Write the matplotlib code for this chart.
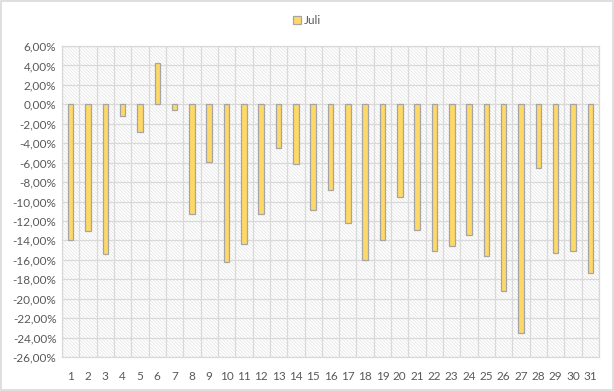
import matplotlib
matplotlib.use("Agg")
import matplotlib.pyplot as plt
from matplotlib.patches import Rectangle
from matplotlib.ticker import FuncFormatter, FixedLocator
import numpy as np

# daily values for July, in percent
days = list(range(1, 32))
juli = [-14.0, -13.0, -15.4, -1.2, -2.9, 4.2, -0.6, -11.3, -5.9, -16.2,
        -14.4, -11.3, -4.5, -6.1, -10.9, -8.8, -12.2, -16.0, -14.0, -9.5,
        -12.9, -15.1, -14.6, -13.4, -15.6, -19.2, -23.5, -6.6, -15.3, -15.1,
        -17.4]
y_ticks = list(range(-26, 7, 2))

text_col = "#595959"
grid_col = "#D9D9D9"

plt.rcParams["font.family"] = ["Lato", "DejaVu Sans"]
plt.rcParams["font.size"] = 8.5
plt.rcParams["hatch.linewidth"] = 0.5

fig = plt.figure(figsize=(6.14, 3.91), dpi=100)
fig.patches.append(Rectangle((0.002, 0.003), 0.996, 0.994, transform=fig.transFigure,
                             facecolor="none", edgecolor=grid_col, lw=1.2, zorder=5))
ax = fig.add_axes([62/614, 34/391, 537/614, 311/391])
ax.set_facecolor("none")

# hatched plot area background
ax.add_patch(Rectangle((0, 0), 1, 1, transform=ax.transAxes, facecolor="white",
                       edgecolor="#E2E2E2", hatch="\\" * 10, lw=0, zorder=0))

ax.bar(days, juli, width=0.32, color="#FFD966", edgecolor="#A5A5A5",
       linewidth=0.9, zorder=3, label="Juli")

ax.set_xlim(0.5, 31.5)
ax.set_ylim(-26, 6)
ax.set_yticks(y_ticks)
ax.yaxis.set_major_formatter(FuncFormatter(lambda v, p: f"{v:.2f}%".replace(".", ",")))
ax.set_xticks(days)
ax.xaxis.set_minor_locator(FixedLocator(np.arange(0.5, 32, 1)))
ax.grid(axis="y", which="major", color=grid_col, lw=0.9, zorder=1)
ax.grid(axis="x", which="minor", color=grid_col, lw=0.9, zorder=1)
ax.set_axisbelow(True)
ax.tick_params(which="both", length=0, colors=text_col, labelsize=8.5)
ax.tick_params(axis="x", pad=10)
ax.tick_params(axis="y", pad=4)
for s in ax.spines.values():
    s.set_color(grid_col)
    s.set_linewidth(0.9)

fig.legend(loc="center", bbox_to_anchor=(0.5, 0.948), frameon=False,
           handlelength=0.7, handleheight=0.7, handletextpad=0.2,
           labelcolor=text_col, fontsize=8.5)

fig.savefig("out.png", dpi=100)
